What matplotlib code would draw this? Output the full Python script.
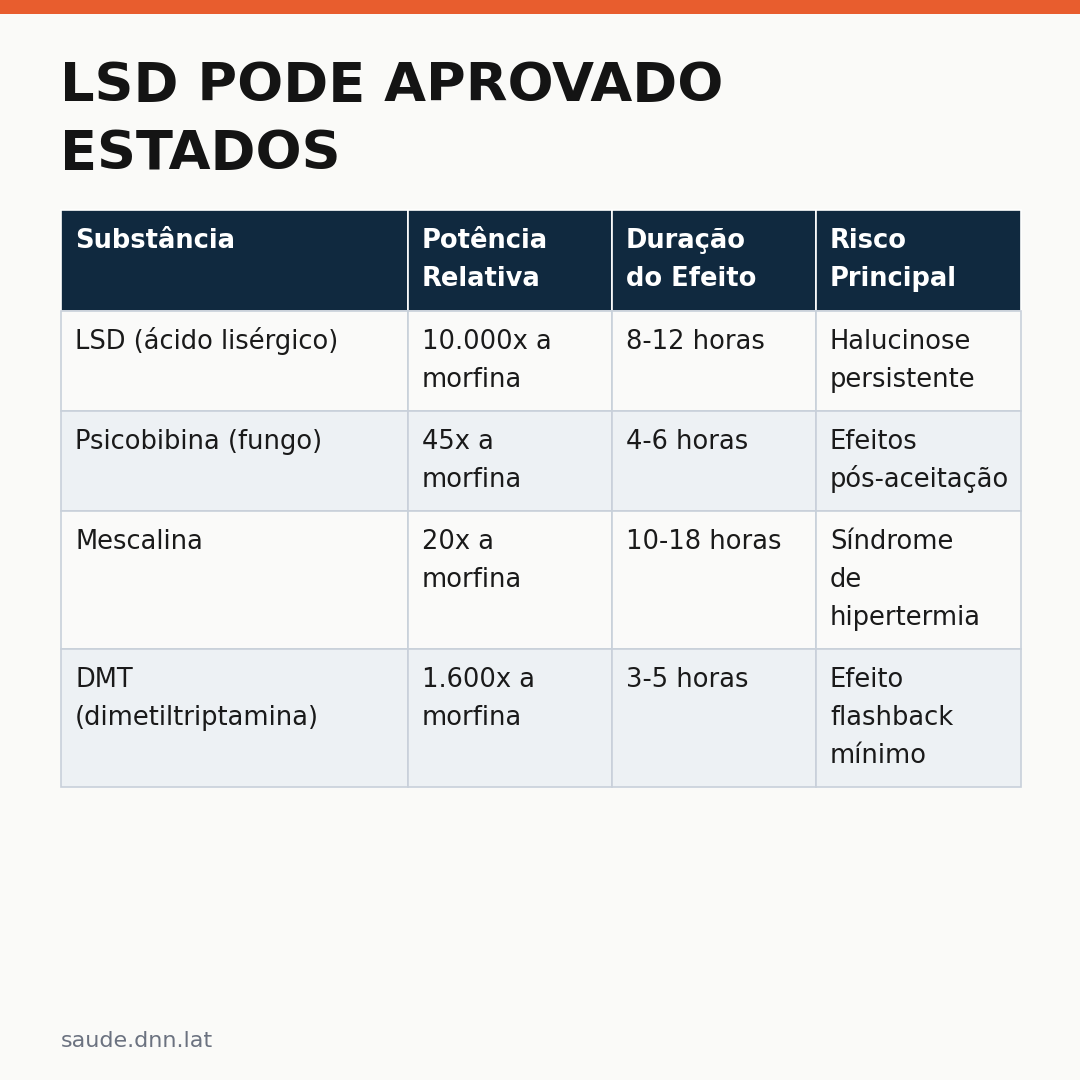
import matplotlib

matplotlib.use("Agg")
import matplotlib.pyplot as plt
from matplotlib.patches import Rectangle

TITLE = ["LSD PODE APROVADO", "ESTADOS"]
HEADERS = [["Substância"], ["Potência", "Relativa"], ["Duração", "do Efeito"], ["Risco", "Principal"]]
SUBSTANCIA = [["LSD (ácido lisérgico)"], ["Psicobibina (fungo)"], ["Mescalina"], ["DMT", "(dimetiltriptamina)"]]
POTENCIA = [["10.000x a", "morfina"], ["45x a", "morfina"], ["20x a", "morfina"], ["1.600x a", "morfina"]]
DURACAO = [["8-12 horas"], ["4-6 horas"], ["10-18 horas"], ["3-5 horas"]]
RISCO = [["Halucinose", "persistente"], ["Efeitos", "pós-aceitação"],
         ["Síndrome", "de", "hipertermia"], ["Efeito", "flashback", "mínimo"]]
FOOTER = "saude.dnn.lat"

col_x = [61, 408, 612, 816, 1021]
row_y = [210, 311, 411, 511, 649, 787]
LINE = 38

fig = plt.figure(figsize=(10.8, 10.8), dpi=100)
fig.patch.set_facecolor("#FAFAF8")
ax = fig.add_axes([0, 0, 1, 1])
ax.set_xlim(0, 1080)
ax.set_ylim(1080, 0)
ax.axis("off")

ax.add_patch(Rectangle((0, 0), 1080, 14, color="#E85D2E", lw=0))

for i, t in enumerate(TITLE):
    ax.text(60, 101 + i * 68, t, fontsize=39, fontweight="bold", color="#141414", va="baseline")

rows = [HEADERS] + [list(r) for r in zip(SUBSTANCIA, POTENCIA, DURACAO, RISCO)]
for r, cells in enumerate(rows):
    y0, y1 = row_y[r], row_y[r + 1]
    if r == 0:
        bg, fg, fw = "#10293F", "white", "bold"
    else:
        bg = "#FAFAF9" if r % 2 == 1 else "#EDF1F4"
        fg, fw = "#1A1A1A", "normal"
    for c, lines in enumerate(cells):
        x0, x1 = col_x[c], col_x[c + 1]
        ax.add_patch(Rectangle((x0, y0), x1 - x0, y1 - y0, facecolor=bg,
                               edgecolor="white" if r == 0 else "#C8D0DA", lw=1.2))
        for k, ln in enumerate(lines):
            ax.text(x0 + 14, y0 + 38 + k * LINE, ln, fontsize=18.5, fontweight=fw,
                    color=fg, va="baseline")

ax.text(61, 1047, FOOTER, fontsize=16, color="#6B7280", va="baseline")

fig.savefig("out.png", dpi=100, facecolor=fig.get_facecolor())
